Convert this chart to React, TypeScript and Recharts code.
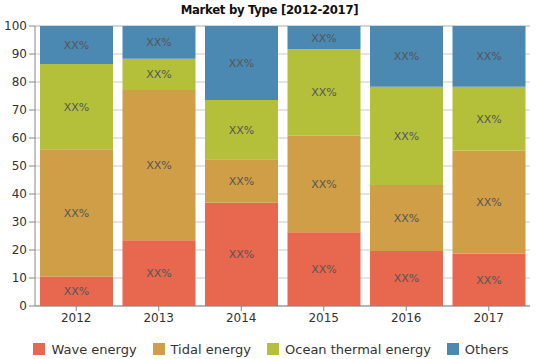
import { BarChart, Bar, XAxis, YAxis, CartesianGrid, Legend, LabelList } from 'recharts';

const years = ['2012', '2013', '2014', '2015', '2016', '2017'];
const wave = [10.5, 23.5, 36.9, 26.3, 19.6, 18.7];
const tidal = [45.5, 53.6, 15.5, 34.5, 23.6, 36.8];
const ocean = [30.4, 11.2, 21.2, 30.9, 35.1, 22.8];
const others = [13.6, 11.7, 26.4, 8.3, 21.7, 21.7];
const yTicks = [0, 10, 20, 30, 40, 50, 60, 70, 80, 90, 100];

const series = [
  { key: 'wave', name: 'Wave energy', color: '#e8674f' },
  { key: 'tidal', name: 'Tidal energy', color: '#cf9e47' },
  { key: 'ocean', name: 'Ocean thermal energy', color: '#b4c03a' },
  { key: 'others', name: 'Others', color: '#4b89b3' },
];

const data = years.map((year, i) => ({
  year,
  wave: wave[i],
  tidal: tidal[i],
  ocean: ocean[i],
  others: others[i],
}));

const font = '"DejaVu Sans", Verdana, sans-serif';

function LegendBox() {
  return (
    <div style={{ height: 20, display: 'flex', justifyContent: 'center', alignItems: 'center', fontFamily: font, fontSize: 13, color: '#333', paddingLeft: 3 }}>
      {series.map((s, i) => (
        <div key={s.key} style={{ display: 'flex', alignItems: 'center', marginLeft: i === 0 ? 0 : 16 }}>
          <span style={{ width: 12, height: 12, background: s.color, marginRight: 6, display: 'inline-block' }} />
          <span>{s.name}</span>
        </div>
      ))}
    </div>
  );
}

export default function App() {
  return (
    <div style={{ position: 'absolute', left: 0, top: 0, width: 539, height: 359, background: '#fff' }}>
      <div
        style={{
          position: 'absolute',
          top: 2,
          left: 0,
          width: 539,
          textAlign: 'center',
          fontFamily: '"DejaVu Sans Condensed", "Liberation Sans Narrow", sans-serif',
          fontWeight: 'bold',
          fontSize: 13,
          letterSpacing: -0.3,
          color: '#111',
          zIndex: 1,
        }}
      >
        Market by Type [2012-2017]
      </div>
      <BarChart width={539} height={359} data={data} margin={{ top: 26, right: 0, left: 0, bottom: 9 }}>
        <CartesianGrid vertical={false} stroke="#c8c8c8" />
        <XAxis
          dataKey="year"
          height={24}
          tickSize={5}
          stroke="#888"
          tick={{ fill: '#333', fontSize: 12, fontFamily: font }}
        />
        <YAxis
          domain={[0, 100]}
          ticks={yTicks}
          width={35}
          tickSize={6}
          stroke="#888"
          tick={{ fill: '#333', fontSize: 12, fontFamily: font }}
        />
        <YAxis
          yAxisId="r"
          orientation="right"
          domain={[0, 100]}
          ticks={yTicks}
          width={9}
          tickSize={3}
          axisLine={false}
          tick={false}
          stroke="#888"
        />
        <Legend verticalAlign="bottom" wrapperStyle={{ bottom: 0, left: 0, width: 539 }} content={() => <LegendBox />} />
        {series.map((s) => (
          <Bar key={s.key} dataKey={s.key} name={s.name} stackId="a" fill={s.color} barSize={73} isAnimationActive={false}>
            <LabelList position="center" valueAccessor={() => 'XX%'} fill="#555" fontSize={11} fontFamily={font} />
          </Bar>
        ))}
      </BarChart>
    </div>
  );
}
